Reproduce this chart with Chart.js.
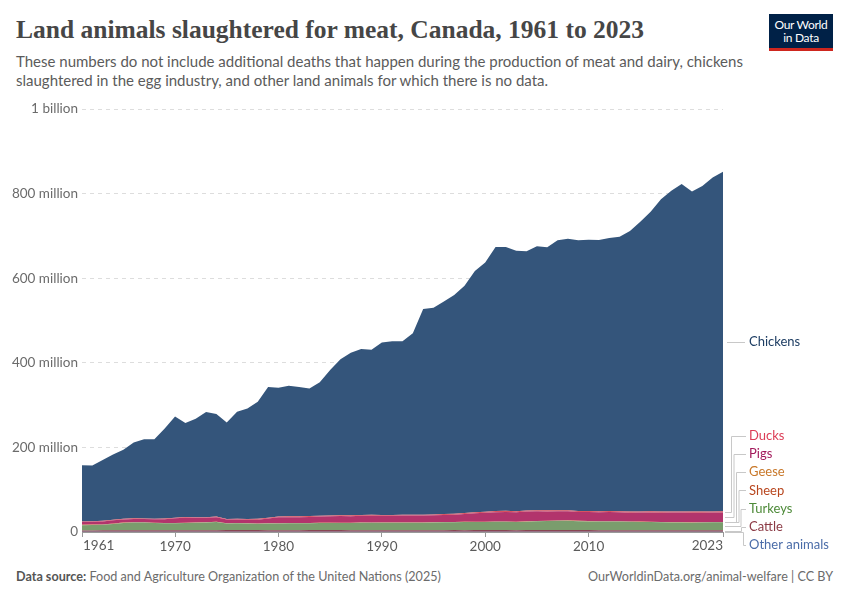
<!DOCTYPE html>
<html>
<head>
<meta charset="utf-8">
<script src="https://cdn.jsdelivr.net/npm/chart.js@4"></script>
<style>
  body { margin: 0; background: #fff; width: 850px; height: 600px; overflow: hidden; font-family: Lato, "Noto Sans", sans-serif; }
  #title { position: absolute; left: 16px; top: 15px; font-family: "Liberation Serif", serif; font-size: 25.5px; font-weight: 700; color: #464646; white-space: nowrap; }
  #sub { position: absolute; left: 16px; top: 52px; width: 760px; font-size: 15px; line-height: 18.5px; color: #5b5b5b; }
  #logo { position: absolute; left: 769px; top: 14px; width: 64px; background: #002147; border-bottom: 3px solid #ce261e; color: #fff; font-size: 12px; line-height: 13px; text-align: center; padding-top: 4px; height: 30px; letter-spacing: -0.3px; }
  #wrap { position: absolute; left: 0; top: 95px; width: 850px; height: 470px; }
  #foot1 { position: absolute; left: 16px; top: 569px; font-size: 12.6px; color: #6b6b6b; }
  #foot1 b { color: #555; font-weight: 700; }
  #foot2 { position: absolute; right: 17px; top: 569px; font-size: 12.6px; color: #6b6b6b; }
</style>
</head>
<body>
<div id="title">Land animals slaughtered for meat, Canada, 1961 to 2023</div>
<div id="sub">These numbers do not include additional deaths that happen during the production of meat and dairy, chickens slaughtered in the egg industry, and other land animals for which there is no data.</div>
<div id="logo">Our World<br>in Data</div>
<div id="wrap"><canvas id="chart"></canvas></div>
<div id="foot1"><b>Data source:</b> Food and Agriculture Organization of the United Nations (2025)</div>
<div id="foot2">OurWorldinData.org/animal-welfare | CC BY</div>
<script>
// anos 1961..2023
const years = [
  1961,1962,1963,1964,1965,1966,1967,1968,1969,1970,
  1971,1972,1973,1974,1975,1976,1977,1978,1979,1980,
  1981,1982,1983,1984,1985,1986,1987,1988,1989,1990,
  1991,1992,1993,1994,1995,1996,1997,1998,1999,2000,
  2001,2002,2003,2004,2005,2006,2007,2008,2009,2010,
  2011,2012,2013,2014,2015,2016,2017,2018,2019,2020,
  2021,2022,2023
];
const xTicks = [1961, 1970, 1980, 1990, 2000, 2010, 2023];
const yTicks = [0, 200e6, 400e6, 600e6, 800e6, 1000e6];
const yTickLabels = ["0", "200 million", "400 million", "600 million", "800 million", "1 billion"];

// valores em milhões de animais
const otherAnimals = [
  0.8,0.8,0.8,0.8,0.8,0.8,0.8,0.8,0.8,0.8,
  0.7,0.7,0.7,0.7,0.7,0.7,0.7,0.7,0.7,0.7,
  0.7,0.7,0.7,0.7,0.7,0.7,0.7,0.7,0.7,0.7,
  0.7,0.7,0.7,0.7,0.7,0.7,0.7,0.7,0.7,0.7,
  0.7,0.7,0.7,0.7,0.7,0.7,0.7,0.7,0.7,0.7,
  0.7,0.7,0.7,0.7,0.7,0.7,0.7,0.7,0.7,0.7,
  0.7,0.7,0.7
];
const cattle = [
  2.9,3.0,3.1,3.3,3.5,3.6,3.6,3.5,3.4,3.4,
  3.5,3.6,3.6,3.7,4.0,4.3,4.2,3.9,3.6,3.6,
  3.7,3.7,3.8,3.8,3.8,3.8,3.7,3.6,3.6,3.5,
  3.5,3.5,3.4,3.5,3.6,3.7,3.8,3.7,3.8,3.9,
  3.9,4.0,3.4,3.8,4.3,4.2,4.2,4.1,3.9,3.8,
  3.6,3.5,3.4,3.3,3.2,3.3,3.3,3.4,3.4,3.3,
  3.3,3.4,3.3
];
const turkeys = [
  12,12.5,13,15,17,18,18,17,16.5,16.5,
  17,17.5,18,19,15.5,15.5,15,15,15.5,16,
  16,16,16,16.5,16.5,17,17,17.5,17.5,17.5,
  17.5,17.5,17.5,17.5,18,18.5,18.5,19,19,19,
  19.5,19.5,19.5,20,20.5,21,21.5,22,21,20.5,
  20.5,20.5,20.5,20,20,19.5,19,18.5,18.5,18,
  18.5,19,19
];
const sheep = [
  0.9,0.9,0.8,0.8,0.7,0.6,0.5,0.5,0.4,0.4,
  0.4,0.3,0.3,0.3,0.3,0.3,0.3,0.3,0.3,0.3,
  0.3,0.3,0.3,0.3,0.3,0.3,0.3,0.3,0.4,0.4,
  0.4,0.4,0.4,0.4,0.4,0.4,0.4,0.5,0.5,0.5,
  0.6,0.6,0.5,0.6,0.6,0.6,0.6,0.6,0.6,0.6,
  0.6,0.6,0.6,0.6,0.6,0.6,0.6,0.6,0.6,0.6,
  0.6,0.6,0.6
];
const geese = [
  0.3,0.3,0.3,0.3,0.3,0.3,0.3,0.3,0.3,0.3,
  0.3,0.3,0.3,0.3,0.3,0.3,0.3,0.3,0.3,0.3,
  0.3,0.3,0.3,0.3,0.3,0.3,0.3,0.3,0.3,0.3,
  0.3,0.3,0.3,0.3,0.3,0.3,0.3,0.3,0.3,0.3,
  0.2,0.2,0.2,0.2,0.2,0.2,0.2,0.2,0.2,0.2,
  0.2,0.2,0.2,0.2,0.2,0.2,0.2,0.2,0.2,0.2,
  0.2,0.2,0.2
];
const pigs = [
  6.5,6.5,7,7.5,7.5,7.5,7.5,8,9,11,
  12,11,10.5,11,8.5,8.5,8.5,9,11.5,14,
  14,14,14.5,15,15.5,15.5,15.5,16,16,16,
  16,16.5,16.5,16.5,16.5,16.5,17,18.5,20,21,
  22,22.5,22.5,23,22.5,22,22,21.5,21,21.5,
  21,21.5,21,21,21.5,22,22,22.5,22.5,23,
  22.5,22,22.5
];
const ducks = [
  1.5,1.5,1.5,1.5,1.5,1.5,1.5,1.5,1.5,1.5,
  1.5,1.5,1.5,1.5,1.5,2,2,2,2,2,
  2,2,2,2,2,2,2,2,2,2,
  2,2,2,2,2,2.5,2.5,2.5,2.5,2.5,
  2.5,2.5,2.5,2.5,2.5,2.5,2.5,2.5,2.5,2.5,
  2.5,2.5,2.5,2.5,2.5,2.5,2.5,2.5,2.5,2.5,
  2.5,2.5,2.5
];
const chickens = [
  133,131.5,143.5,154,163,179,187,187.5,213,239,
  222.5,233,249,242.5,228,252.5,261,277,309,304,
  309,306,301.5,315.5,344,368.5,384.5,392.5,390.5,407.5,
  410.5,410,429,486,488.5,502.5,517,537,570,589,
  624.5,624,615.5,613,624.5,622,638,641.5,640,641,
  641,645.5,649,663.5,685,708,738.5,758.5,774.5,756.5,
  769.5,789.5,803
];

// de baixo para cima
const series = [
  { name: "Other animals", values: otherAnimals, fill: "#6676a8", text: "#4a6ca8" },
  { name: "Cattle", values: cattle, fill: "#8a4553", text: "#8b3a45" },
  { name: "Turkeys", values: turkeys, fill: "#7a9d6d", text: "#4d8a38" },
  { name: "Sheep", values: sheep, fill: "#c05a3a", text: "#b8461e" },
  { name: "Geese", values: geese, fill: "#d08a3e", text: "#c8782a" },
  { name: "Pigs", values: pigs, fill: "#b2346c", text: "#a2195b" },
  { name: "Ducks", values: ducks, fill: "#d9525f", text: "#dc3c56" },
  { name: "Chickens", values: chickens, fill: "#34557b", text: "#1d3d63" }
];

const datasets = series.map((s, i) => ({
  label: s.name,
  data: years.map((yr, j) => ({ x: yr, y: s.values[j] * 1e6 })),
  backgroundColor: s.fill,
  borderColor: s.fill,
  borderWidth: 0,
  pointRadius: 0,
  fill: i === 0 ? "origin" : "-1",
  tension: 0
}));

// rótulos à direita com linhas de ligação + anos das pontas
const rightLabels = {
  id: "rightLabels",
  afterDraw(chart) {
    const ctx = chart.ctx;
    const area = chart.chartArea;
    const last = years.length - 1;
    const xs = chart.scales.x;
    const zeroY = chart.scales.y.getPixelForValue(0);
    ctx.save();

    // 1961 alinhado à esquerda, 2023 à direita
    ctx.font = "13.5px Lato, sans-serif";
    ctx.fillStyle = "#5b5b5b";
    ctx.textBaseline = "top";
    ctx.textAlign = "left";
    ctx.fillText(String(xTicks[0]), xs.getPixelForValue(xTicks[0]) + 1, area.bottom + 7);
    ctx.textAlign = "right";
    ctx.fillText(String(xTicks[xTicks.length - 1]), xs.getPixelForValue(xTicks[xTicks.length - 1]), area.bottom + 7);
    ctx.textAlign = "left";

    ctx.font = "13px Lato, sans-serif";
    ctx.textBaseline = "middle";
    ctx.lineWidth = 1;
    ctx.strokeStyle = "#c8c8c8";
    const small = series.slice(0, 7);
    const elbows = [743, 741, 740.5, 738.5, 736, 733.5, 731];
    small.forEach((s, i) => {
      const top = chart.getDatasetMeta(i).data[last].y;
      const bot = i === 0 ? zeroY : chart.getDatasetMeta(i - 1).data[last].y;
      const sy = (top + bot) / 2;
      const ly = area.bottom + 13 - i * 18.2;
      const ex = elbows[i];
      ctx.beginPath();
      ctx.moveTo(area.right + 2, Math.round(sy) + 0.5);
      ctx.lineTo(ex + 0.5, Math.round(sy) + 0.5);
      ctx.lineTo(ex + 0.5, Math.round(ly) + 0.5);
      ctx.lineTo(746, Math.round(ly) + 0.5);
      ctx.stroke();
      ctx.fillStyle = s.text;
      ctx.fillText(s.name, 749, ly);
    });
    const c = series[7];
    const cTop = chart.getDatasetMeta(7).data[last].y;
    const cBot = chart.getDatasetMeta(6).data[last].y;
    const cy = Math.round((cTop + cBot) / 2);
    ctx.beginPath();
    ctx.moveTo(area.right + 4, cy + 0.5);
    ctx.lineTo(745, cy + 0.5);
    ctx.stroke();
    ctx.fillStyle = c.text;
    ctx.fillText(c.name, 749, cy);
    ctx.restore();
  }
};

new Chart(document.getElementById("chart"), {
  type: "line",
  data: { datasets: datasets },
  options: {
    responsive: true,
    maintainAspectRatio: false,
    animation: false,
    layout: { padding: { left: 0, right: 127, top: 14, bottom: 0 } },
    plugins: { legend: { display: false }, tooltip: { enabled: false } },
    scales: {
      x: {
        type: "linear",
        min: 1961,
        max: 2023,
        afterBuildTicks: (scale) => { scale.ticks = xTicks.map(v => ({ value: v })); },
        afterFit: (scale) => { scale.height = 33; },
        ticks: {
          callback: (v) => (v === xTicks[0] || v === xTicks[xTicks.length - 1]) ? "" : String(v),
          autoSkip: false,
          maxRotation: 0,
          color: "#5b5b5b",
          font: { family: "Lato", size: 13.5 },
          padding: 2
        },
        grid: { display: true, drawOnChartArea: false, drawTicks: true, tickLength: 5, color: "#999" },
        border: { display: true, color: "#999", width: 1 }
      },
      y: {
        stacked: true,
        min: 0,
        max: 1e9,
        afterBuildTicks: (scale) => { scale.ticks = yTicks.map(v => ({ value: v })); },
        afterFit: (scale) => { scale.width = 82; },
        ticks: {
          callback: (v, i) => yTickLabels[i],
          color: "#6b6b6b",
          font: { family: "Lato", size: 13.5 },
          padding: 4
        },
        grid: {
          color: (c) => c.tick && c.tick.value === 0 ? "rgba(0,0,0,0)" : "#dddddd",
          drawTicks: false,
          lineWidth: 1
        },
        border: { display: false, dash: [4, 4] }
      }
    }
  },
  plugins: [rightLabels]
});
</script>
</body>
</html>
